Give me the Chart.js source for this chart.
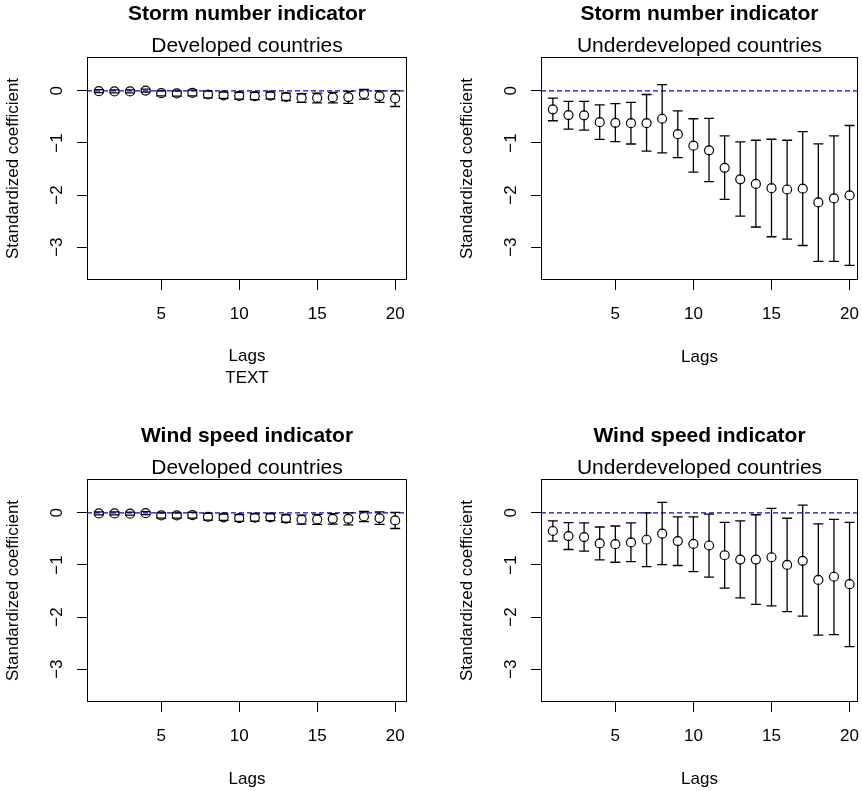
<!DOCTYPE html>
<html>
<head>
<meta charset="utf-8">
<title>Storm and wind speed indicators</title>
<script src="https://cdn.jsdelivr.net/npm/chart.js@4"></script>
<style>
  html, body { margin: 0; padding: 0; background: #ffffff; overflow: hidden; }
  #wrap { position: relative; width: 862px; height: 791px; overflow: hidden; background: #ffffff; }
  canvas { position: absolute; }
</style>
</head>
<body>
<div id="wrap">
  <canvas id="stormDev" width="454" height="422" style="left:0px;top:0px"></canvas>
  <canvas id="stormUnder" width="446" height="422" style="left:454px;top:0px"></canvas>
  <canvas id="windDev" width="454" height="369" style="left:0px;top:422px"></canvas>
  <canvas id="windUnder" width="446" height="369" style="left:454px;top:422px"></canvas>
</div>
<script>
// Lags on the x axis
const lags = [1, 2, 3, 4, 5, 6, 7, 8, 9, 10, 11, 12, 13, 14, 15, 16, 17, 18, 19, 20];
const xTickValues = [5, 10, 15, 20];
const yTickValues = [-3, -2, -1, 0];
const referenceLevel = 0;

// Storm number indicator, developed countries
const stormDevCoef  = [-0.005, -0.01, -0.01, 0.005, -0.045, -0.05, -0.04, -0.07, -0.085, -0.095, -0.1, -0.09, -0.115, -0.135, -0.135, -0.125, -0.12, -0.06, -0.1, -0.145];
const stormDevLower = [-0.035, -0.04, -0.04, -0.025, -0.095, -0.1, -0.095, -0.135, -0.145, -0.16, -0.17, -0.155, -0.185, -0.22, -0.23, -0.23, -0.24, -0.16, -0.22, -0.3];
const stormDevUpper = [0.025, 0.02, 0.02, 0.035, 0.0, 0.0, 0.015, -0.005, -0.025, -0.03, -0.03, -0.025, -0.045, -0.055, -0.045, -0.03, -0.01, 0.03, 0.0, 0.0];

// Storm number indicator, underdeveloped countries
const stormUnderCoef  = [-0.355, -0.465, -0.47, -0.6, -0.613, -0.62, -0.62, -0.535, -0.832, -1.052, -1.142, -1.477, -1.697, -1.787, -1.868, -1.893, -1.877, -2.142, -2.065, -2.006];
const stormUnderLower = [-0.574, -0.735, -0.755, -0.93, -0.974, -1.02, -1.155, -1.19, -1.28, -1.558, -1.74, -2.084, -2.403, -2.613, -2.8, -2.847, -2.968, -3.271, -3.271, -3.348];
const stormUnderUpper = [-0.14, -0.2, -0.2, -0.27, -0.245, -0.22, -0.07, 0.12, -0.385, -0.535, -0.529, -0.865, -0.978, -0.948, -0.929, -0.948, -0.781, -1.019, -0.862, -0.665];

// Wind speed indicator, developed countries
const windDevCoef  = [-0.01, -0.01, -0.015, -0.005, -0.05, -0.05, -0.045, -0.075, -0.085, -0.1, -0.09, -0.085, -0.11, -0.13, -0.125, -0.115, -0.115, -0.07, -0.1, -0.145];
const windDevLower = [-0.04, -0.04, -0.045, -0.035, -0.1, -0.1, -0.1, -0.14, -0.145, -0.165, -0.16, -0.15, -0.18, -0.215, -0.22, -0.215, -0.23, -0.17, -0.22, -0.3];
const windDevUpper = [0.02, 0.02, 0.015, 0.025, 0.0, 0.0, 0.01, -0.01, -0.025, -0.035, -0.02, -0.02, -0.04, -0.045, -0.03, -0.015, 0.0, 0.03, 0.02, 0.01];

// Wind speed indicator, underdeveloped countries
const windUnderCoef  = [-0.348, -0.445, -0.465, -0.587, -0.6, -0.568, -0.516, -0.4, -0.542, -0.597, -0.626, -0.813, -0.897, -0.897, -0.852, -1.0, -0.92, -1.287, -1.226, -1.368];
const windUnderLower = [-0.542, -0.703, -0.735, -0.903, -0.948, -0.935, -1.032, -0.994, -1.01, -1.126, -1.232, -1.445, -1.632, -1.755, -1.787, -1.897, -1.981, -2.348, -2.335, -2.568];
const windUnderUpper = [-0.155, -0.187, -0.194, -0.271, -0.252, -0.194, 0.0, 0.2, -0.077, -0.077, -0.026, -0.181, -0.155, -0.036, 0.087, -0.103, 0.148, -0.213, -0.123, -0.181];

const FONT = "'Liberation Sans', Arial, Helvetica, sans-serif";
Chart.defaults.font.family = FONT;
Chart.defaults.color = '#000000';

// Confidence interval whiskers with flat caps; the stem stops just short of the point centre
const errorBars = {
  id: 'errorBars',
  afterDatasetsDraw(chart, args, opts) {
    const { ctx, scales: { x, y } } = chart;
    chart.data.datasets.forEach(ds => {
      if (!ds.lower) return;
      ctx.save();
      ctx.strokeStyle = opts.color;
      ctx.lineWidth = opts.width;
      ds.data.forEach((p, i) => {
        const px = x.getPixelForValue(p.x);
        const py = y.getPixelForValue(p.y);
        const pu = y.getPixelForValue(ds.upper[i]);
        const pl = y.getPixelForValue(ds.lower[i]);
        ctx.beginPath();
        if (pu < py - opts.gap) { ctx.moveTo(px, pu); ctx.lineTo(px, py - opts.gap); }
        if (pl > py + opts.gap) { ctx.moveTo(px, pl); ctx.lineTo(px, py + opts.gap); }
        ctx.moveTo(px - opts.cap, pu); ctx.lineTo(px + opts.cap, pu);
        ctx.moveTo(px - opts.cap, pl); ctx.lineTo(px + opts.cap, pl);
        ctx.stroke();
      });
      ctx.restore();
    });
  }
};

// Full box around the plotting region
const plotFrame = {
  id: 'plotFrame',
  afterDraw(chart) {
    const a = chart.chartArea;
    const ctx = chart.ctx;
    ctx.save();
    ctx.strokeStyle = '#000000';
    ctx.lineWidth = 1;
    const l = Math.round(a.left) + 0.5, t = Math.round(a.top) + 0.5;
    const r = Math.round(a.right) - 0.5, b = Math.round(a.bottom) - 0.5;
    ctx.strokeRect(l, t, r - l, b - t);
    ctx.restore();
  }
};

const minusFmt = v => (v < 0 ? '\u2212' + Math.abs(v) : String(v));

function makePanel(id, cfg) {
  const canvas = document.getElementById(id);
  const H = canvas.height;
  const points = lags.map((lag, i) => ({ x: lag, y: cfg.coef[i] }));
  return new Chart(canvas, {
    type: 'scatter',
    data: {
      datasets: [
        {
          type: 'line',
          data: [{ x: cfg.xMin, y: referenceLevel }, { x: cfg.xMax, y: referenceLevel }],
          borderColor: '#0000FF',
          borderWidth: 1.2,
          borderDash: [5, 3],
          pointRadius: 0,
          order: 2
        },
        {
          data: points,
          lower: cfg.lower,
          upper: cfg.upper,
          pointStyle: 'circle',
          pointRadius: 4.5,
          pointBorderWidth: 1.2,
          pointBorderColor: '#000000',
          pointBackgroundColor: 'rgba(0,0,0,0)',
          order: 1
        }
      ]
    },
    options: {
      responsive: false,
      animation: false,
      events: [],
      layout: { padding: { left: 0, top: 0, bottom: 0, right: cfg.padRight } },
      scales: {
        x: {
          type: 'linear',
          min: cfg.xMin,
          max: cfg.xMax,
          afterBuildTicks: s => { s.ticks = xTickValues.map(v => ({ value: v })); },
          afterFit: s => { s.height = H - 280; },
          ticks: { font: { size: 17 }, color: '#000000', padding: 13.8, maxRotation: 0, minRotation: 0 },
          grid: { drawOnChartArea: false, drawTicks: true, tickLength: 10, color: '#000000', lineWidth: 1 },
          border: { display: false },
          title: {
            display: true,
            text: cfg.xTitle,
            color: '#000000',
            font: { size: 17, lineHeight: 1.25 },
            padding: { top: 0, bottom: cfg.xTitlePad }
          }
        },
        y: {
          type: 'linear',
          min: -3.63,
          max: 0.65,
          afterBuildTicks: s => { s.ticks = yTickValues.map(v => ({ value: v })); },
          afterFit: s => { s.width = 87; },
          ticks: {
            font: { size: 17 }, color: '#000000', padding: 9.8,
            minRotation: 90, maxRotation: 90, crossAlign: 'center',
            callback: minusFmt
          },
          grid: { drawOnChartArea: false, drawTicks: true, tickLength: 10, color: '#000000', lineWidth: 1 },
          border: { display: false },
          title: {
            display: true,
            text: 'Standardized coefficient',
            color: '#000000',
            font: { size: 17, lineHeight: 1.2 },
            padding: { top: 2.8, bottom: 0 }
          }
        }
      },
      plugins: {
        legend: { display: false },
        tooltip: { enabled: false },
        title: {
          display: true,
          text: cfg.title,
          fullSize: false,
          color: '#000000',
          font: { size: 21, weight: 'bold', lineHeight: 1.2 },
          padding: { top: 1.4, bottom: 0 }
        },
        subtitle: {
          display: true,
          text: cfg.subtitle,
          fullSize: false,
          color: '#000000',
          font: { size: 21, weight: 'normal', lineHeight: 1.0 },
          padding: { top: 8.9, bottom: 0.5 }
        },
        errorBars: { color: '#000000', width: 1.3, gap: 3.5, cap: 5 }
      }
    },
    plugins: [errorBars, plotFrame]
  });
}

makePanel('stormDev', {
  title: 'Storm number indicator', subtitle: 'Developed countries',
  coef: stormDevCoef, lower: stormDevLower, upper: stormDevUpper,
  xMin: 0.24, xMax: 20.76, padRight: 47,
  xTitle: ['Lags', 'TEXT'], xTitlePad: 33.4
});
makePanel('stormUnder', {
  title: 'Storm number indicator', subtitle: 'Underdeveloped countries',
  coef: stormUnderCoef, lower: stormUnderLower, upper: stormUnderUpper,
  xMin: 0.24, xMax: 20.54, padRight: 42,
  xTitle: 'Lags', xTitlePad: 54.4
});
makePanel('windDev', {
  title: 'Wind speed indicator', subtitle: 'Developed countries',
  coef: windDevCoef, lower: windDevLower, upper: windDevUpper,
  xMin: 0.24, xMax: 20.76, padRight: 47,
  xTitle: 'Lags', xTitlePad: 1.4
});
makePanel('windUnder', {
  title: 'Wind speed indicator', subtitle: 'Underdeveloped countries',
  coef: windUnderCoef, lower: windUnderLower, upper: windUnderUpper,
  xMin: 0.24, xMax: 20.54, padRight: 42,
  xTitle: 'Lags', xTitlePad: 1.4
});
</script>
</body>
</html>
